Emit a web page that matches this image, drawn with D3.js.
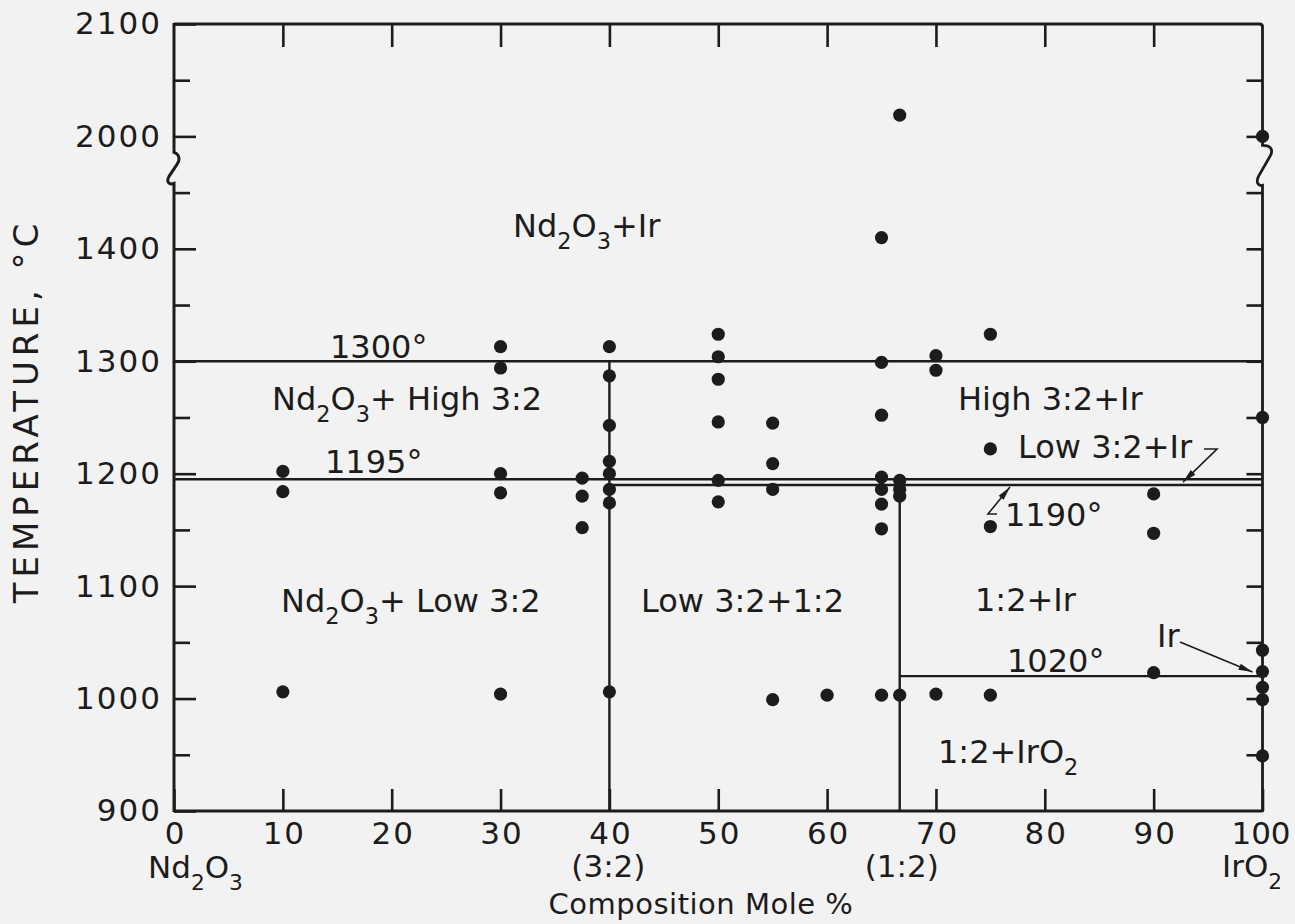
<!DOCTYPE html>
<html><head><meta charset="utf-8">
<script src="https://cdn.jsdelivr.net/npm/d3@7"></script>
<style>
html,body{margin:0;padding:0;background:#f2f2f2;}
svg{display:block;}
text{font-family:"DejaVu Sans", sans-serif; fill:#1c1c1c;}
</style></head><body>
<svg id="c" width="1295" height="924"></svg>
<script>
// ---------------- data ----------------
const compositions = [10, 30, 37.5, 40, 50, 55, 60, 65, 66.67, 70, 75, 90, 100];
const temperatures = [
  [1202, 1184, 1006],
  [1313, 1294, 1200, 1183, 1004],
  [1196, 1180, 1152],
  [1313, 1287, 1243, 1211, 1200, 1186, 1174, 1006],
  [1324, 1304, 1284, 1246, 1194, 1175],
  [1245, 1209, 1186, 999],
  [1003],
  [1410, 1299, 1252, 1197, 1186, 1173, 1151, 1003],
  [2019, 1194, 1186, 1180, 1003],
  [1305, 1292, 1004],
  [1324, 1222, 1153, 1003],
  [1182, 1147, 1023],
  [2000, 1250, 1043, 1024, 1010, 999, 949]
];
const xTickValues = [0, 10, 20, 30, 40, 50, 60, 70, 80, 90, 100];
const xTickLabels = ["0", "10", "20", "30", "40", "50", "60", "70", "80", "90", "100"];
const yTickValues = [900, 1000, 1100, 1200, 1300, 1400, 2000, 2100];
const yTickLabels = ["900", "1000", "1100", "1200", "1300", "1400", "2000", "2100"];
const yMinorValues = [950, 1050, 1150, 1250, 1350, 1450, 2050];
const rightTickValues = [950, 1000, 1050, 1100, 1150, 1200, 1250, 1300, 1350, 1400, 1450, 2000, 2050];
const isothermTemps = [1300, 1195, 1190, 1020];
const isothermStarts = [0, 0, 40, 66.67];
const verticalComps = [40, 66.67];
const verticalTops = [1300, 1190];

// ---------------- scales ----------------
const svg = d3.select("#c");
const x = d3.scaleLinear().domain([0, 100]).range([174, 1262.5]);
// broken axis: 1450..1950 collapsed
const y = d3.scaleLinear().domain([900, 1450, 1950, 2100]).range([811, 192.6, 192.6, 24]);
const ink = "#1c1c1c";

// ---------------- axes (ticks) ----------------
function styleAxis(g) {
  g.select(".domain").remove();
  g.selectAll(".tick line").attr("stroke", ink).attr("stroke-width", 2.6);
  g.selectAll(".tick text").attr("fill", ink).style("font-size", "31px").style("letter-spacing", "2px");
}
svg.append("g").attr("transform", `translate(${x(0)},0)`)
  .call(d3.axisLeft(y).tickValues(yTickValues).tickSizeInner(-22).tickSizeOuter(0).tickPadding(12)
    .tickFormat((d, i) => yTickLabels[i]))
  .call(styleAxis);
svg.append("g").attr("transform", `translate(${x(0)},0)`)
  .call(d3.axisLeft(y).tickValues(yMinorValues).tickSizeInner(-16).tickSizeOuter(0).tickFormat(""))
  .call(styleAxis);
svg.append("g").attr("transform", `translate(${x(100)},0)`)
  .call(d3.axisRight(y).tickValues(rightTickValues).tickSizeInner(-16).tickSizeOuter(0).tickFormat(""))
  .call(styleAxis);
svg.append("g").attr("transform", `translate(0,${y(900)})`)
  .call(d3.axisBottom(x).tickValues(xTickValues).tickSizeInner(-22).tickSizeOuter(0).tickPadding(11)
    .tickFormat((d, i) => xTickLabels[i]))
  .call(styleAxis)
  .call(g => g.selectAll(".tick text").attr("dx", d => d === 100 ? "-2px" : "1px")
    .style("letter-spacing", d => d === 100 ? "0px" : "2px"));
svg.append("g").attr("transform", `translate(0,${y(2100)})`)
  .call(d3.axisTop(x).tickValues(xTickValues.slice(1, -1)).tickSizeInner(-23).tickSizeOuter(0).tickFormat(""))
  .call(styleAxis);

// ---------------- frame with breaks ----------------
const xl = x(0), xr = x(100), yt = y(2100), yb = y(900), ybrk = y(2000);
svg.append("path")
  .attr("d", `M${xl},${yb} H${xr} M${xl},${yt} H${xr - 3} Q${xr},${yt} ${xr},${yt + 3}`)
  .attr("fill", "none").attr("stroke", ink).attr("stroke-width", 3);
svg.append("path")
  .attr("d", `M${xl},${yt - 1} V${ybrk + 16} C${xl + 6},${ybrk + 18} ${xl + 6},${ybrk + 24} ${xl + 3},${ybrk + 28}
     L${xl - 5},${ybrk + 40} C${xl - 8},${ybrk + 45} ${xl - 5},${ybrk + 49} ${xl},${ybrk + 47} V${yb + 1}`)
  .attr("fill", "none").attr("stroke", ink).attr("stroke-width", 3);
svg.append("path")
  .attr("d", `M${xr},${yt + 3} V${ybrk + 9} C${xr + 8},${ybrk + 9} ${xr + 11},${ybrk + 13} ${xr + 8},${ybrk + 19}
     L${xr - 4},${ybrk + 40} C${xr - 7},${ybrk + 46} ${xr - 4},${ybrk + 50} ${xr},${ybrk + 49} V${yb + 1}`)
  .attr("fill", "none").attr("stroke", ink).attr("stroke-width", 2.8);

// ---------------- phase boundaries ----------------
svg.append("g").selectAll("line").data(isothermTemps).join("line")
  .attr("x1", (d, i) => x(isothermStarts[i])).attr("x2", x(100))
  .attr("y1", d => y(d)).attr("y2", d => y(d))
  .attr("stroke", ink).attr("stroke-width", 2.4);
svg.append("g").selectAll("line").data(verticalComps).join("line")
  .attr("x1", d => x(d)).attr("x2", d => x(d))
  .attr("y1", (d, i) => y(verticalTops[i])).attr("y2", y(900))
  .attr("stroke", ink).attr("stroke-width", 2.4);

// ---------------- data points ----------------
const pts = [];
compositions.forEach((c, i) => temperatures[i].forEach(t => pts.push([c, t])));
svg.append("g").selectAll("circle").data(pts).join("circle")
  .attr("cx", d => x(d[0])).attr("cy", d => y(d[1])).attr("r", 6.6)
  .attr("fill", ink);

// ---------------- labels ----------------
function label(px, py, parts, size, anchor) {
  const t = svg.append("text").attr("x", px).attr("y", py)
    .style("font-size", size + "px").attr("text-anchor", anchor || "start");
  let sub = false;
  parts.forEach(p => {
    const isSub = p.startsWith("_");
    const txt = isSub ? p.slice(1) : p;
    const ts = t.append("tspan").text(txt);
    if (isSub && !sub) ts.attr("dy", 0.38 * size);
    if (!isSub && sub) ts.attr("dy", -0.38 * size);
    if (isSub) ts.style("font-size", (0.7 * size) + "px");
    sub = isSub;
  });
  return t;
}
label(513, 237, ["Nd", "_2", "O", "_3", "+Ir"], 32);
label(330, 358, ["1300°"], 32);
label(272, 410, ["Nd", "_2", "O", "_3", "+ High 3:2"], 32);
label(325, 473, ["1195°"], 32);
label(281, 612, ["Nd", "_2", "O", "_3", "+ Low 3:2"], 32);
label(641, 612, ["Low 3:2+1:2"], 32);
label(958, 410, ["High 3:2+Ir"], 32);
label(1018, 458, ["Low 3:2+Ir"], 32);
label(1005, 526, ["1190°"], 32);
label(975, 611, ["1:2+Ir"], 32);
label(1007, 672, ["1020°"], 32);
label(938, 763, ["1:2+IrO", "_2"], 32);
label(1157, 647, ["Ir"], 32);

// x sub-labels
label(148, 878, ["Nd", "_2", "O", "_3"], 31);
label(x(40) - 1, 877, ["(3:2)"], 31, "middle");
label(x(66.67) + 2, 877, ["(1:2)"], 31, "middle");
label(1222, 877, ["IrO", "_2"], 31);

// axis titles
svg.append("text").attr("x", 701).attr("y", 914).attr("text-anchor", "middle")
  .style("font-size", "29px").style("letter-spacing", "0.5px").text("Composition Mole %");
svg.append("text").attr("transform", "translate(38,411) rotate(-90)").attr("text-anchor", "middle")
  .style("font-size", "34px").style("letter-spacing", "5px").text("TEMPERATURE, °C");

// ---------------- arrows ----------------
function arrow(points) {
  svg.append("path").attr("d", d3.line()(points))
    .attr("fill", "none").attr("stroke", ink).attr("stroke-width", 1.6);
  const [x1, y1] = points[points.length - 2], [x2, y2] = points[points.length - 1];
  const a = Math.atan2(y2 - y1, x2 - x1), L = 14, W = 3.2;
  const bx = x2 - L * Math.cos(a), by = y2 - L * Math.sin(a);
  svg.append("path")
    .attr("d", `M${x2},${y2} L${bx - W * Math.sin(a)},${by + W * Math.cos(a)} L${bx + W * Math.sin(a)},${by - W * Math.cos(a)} Z`)
    .attr("fill", ink);
}
arrow([[1204, 449], [1217, 449], [1183, y(1192.5)]]);
arrow([[997, 514], [988, 514], [1010, y(1190) + 2]]);
arrow([[1180, 642], [x(100) - 10, y(1020) - 4]]);
</script>
</body></html>
